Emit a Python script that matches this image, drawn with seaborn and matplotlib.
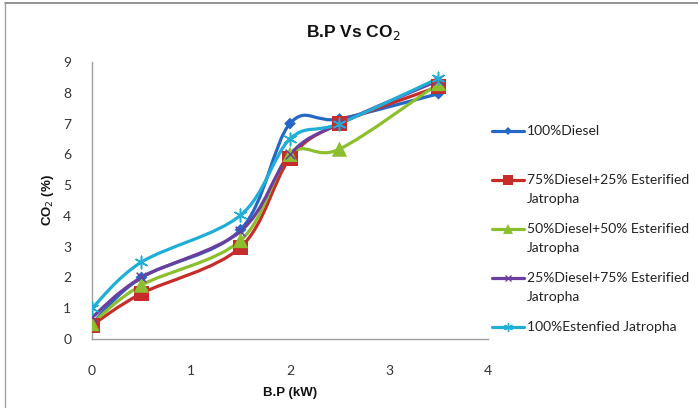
import numpy as np
import matplotlib
matplotlib.use("Agg")
import matplotlib.pyplot as plt
import seaborn as sns
import pandas as pd
from matplotlib.path import Path
from matplotlib.patches import PathPatch
from matplotlib.lines import Line2D

# ---- data ----
bp = [0, 0.5, 1.5, 2, 2.5, 3.5]
diesel100 = [0.5, 2.0, 3.55, 7.0, 7.15, 7.97]
d75_e25 = [0.45, 1.48, 2.98, 5.87, 7.0, 8.2]
d50_e50 = [0.5, 1.75, 3.2, 6.0, 6.17, 8.3]
d25_e75 = [0.7, 2.0, 3.5, 6.0, 7.0, 8.4]
est100 = [1.0, 2.5, 4.02, 6.5, 7.0, 8.47]

labels = ["100%Diesel",
          "75%Diesel+25% Esterified\nJatropha",
          "50%Diesel+50% Esterified\nJatropha",
          "25%Diesel+75% Esterified\nJatropha",
          "100%Estenfied Jatropha"]
series = [diesel100, d75_e25, d50_e50, d25_e75, est100]
colors = ["#2467C4", "#C62D2A", "#8CBF2E", "#6B3FA0", "#1FAED6"]
markers = ["D", "s", "^", "x", (6, 2, 0)]
msizes = [6, 11, 11, 7, 9]

sns.set_theme(style="white")
plt.rcParams['font.family'] = ['Liberation Sans', 'DejaVu Sans']

fig = plt.figure(figsize=(6.98, 4.08), dpi=100)
ax = fig.add_axes([92/698, 1-339/408, 396/698, 277/408])


def smooth_path(xs, ys):
    pts = np.column_stack([xs, ys]).astype(float)
    n = len(pts)
    verts = [pts[0]]
    codes = [Path.MOVETO]
    for i in range(n - 1):
        p0 = pts[i - 1] if i > 0 else pts[i]
        p1 = pts[i]
        p2 = pts[i + 1]
        p3 = pts[i + 2] if i + 2 < n else pts[i + 1]
        c1 = p1 + (p2 - p0) / 6.0
        c2 = p2 - (p3 - p1) / 6.0
        verts += [c1, c2, p2]
        codes += [Path.CURVE4] * 3
    return Path(verts, codes)


rows = []
for lab, vals in zip(labels, series):
    for x, y in zip(bp, vals):
        rows.append({"bp": x, "co2": y, "series": lab})
df = pd.DataFrame(rows)

for k, (lab, vals) in enumerate(zip(labels, series)):
    patch = PathPatch(smooth_path(bp, vals), facecolor="none",
                      edgecolor=colors[k], lw=2.3, zorder=2 + k * 0.1)
    ax.add_patch(patch)
    sub = df[df["series"] == lab]
    mk = markers[k]
    filled = mk not in ("x",) and not isinstance(mk, tuple)
    sns.scatterplot(data=sub, x="bp", y="co2", ax=ax, color=colors[k],
                    marker=mk, s=msizes[k] ** 2,
                    linewidth=0 if filled else 1.1,
                    edgecolor=colors[k] if not filled else "none",
                    zorder=3 + k * 0.1, legend=False)

ax.set_xlim(0, 4)
ax.set_ylim(0, 9)
ax.set_xticks([0, 1, 2, 3, 4])
ax.set_yticks(range(10))
ax.set_xlabel("")
ax.set_ylabel("")
for s in ["top", "right"]:
    ax.spines[s].set_visible(False)
for s in ["left", "bottom"]:
    ax.spines[s].set_color("#A0A0A0")
    ax.spines[s].set_linewidth(1.0)
ax.tick_params(axis="both", length=0, labelsize=10, colors="#333333")
ax.tick_params(axis="x", pad=19)
ax.tick_params(axis="y", pad=15)
for t in ax.get_xticklabels() + ax.get_yticklabels():
    t.set_fontfamily(["Lato", "DejaVu Sans"])

fig.text(353/698, 1-32/408, "B.P Vs CO$_2$", ha="center", va="center",
         fontsize=12.5, fontweight="bold", color="#111111")
fig.text(290/698, 1-393/408, "B.P (kW)", ha="center", va="center",
         fontsize=9.5, fontweight="bold", color="#111111")
fig.text(48/698, 1-200/408, "CO$_2$ (%)", ha="center", va="center",
         rotation=90, fontsize=9.5, fontweight="bold", color="#111111")

# legend (manual)
ys_leg = [131, 180, 229, 278, 327]
for k, lab in enumerate(labels):
    yf = 1 - ys_leg[k] / 408
    fig.add_artist(Line2D([492/698, 524/698], [yf, yf], transform=fig.transFigure,
                          color=colors[k], lw=2.3))
    filled = markers[k] not in ("x",) and not isinstance(markers[k], tuple)
    fig.add_artist(Line2D([508/698], [yf], transform=fig.transFigure,
                          color=colors[k], marker=markers[k], lw=0,
                          markersize=msizes[k] * 0.7,
                          markeredgewidth=0 if filled else 1.0))
    lines = lab.split("\n")
    for j, ln in enumerate(lines):
        fig.text(527/698, 1 - (ys_leg[k] + 19 * j) / 408, ln, ha="left", va="center",
                 fontsize=10, color="#222222", family=["Lato", "DejaVu Sans"])

# outer frame lines (top and left)
fig.add_artist(Line2D([5/698, 1], [1-3/408, 1-3/408], transform=fig.transFigure,
                      color="#808080", lw=1.2))
fig.add_artist(Line2D([5/698, 5/698], [0, 1-3/408], transform=fig.transFigure,
                      color="#A0A0A0", lw=1.0))

fig.savefig("out.png", dpi=100)
